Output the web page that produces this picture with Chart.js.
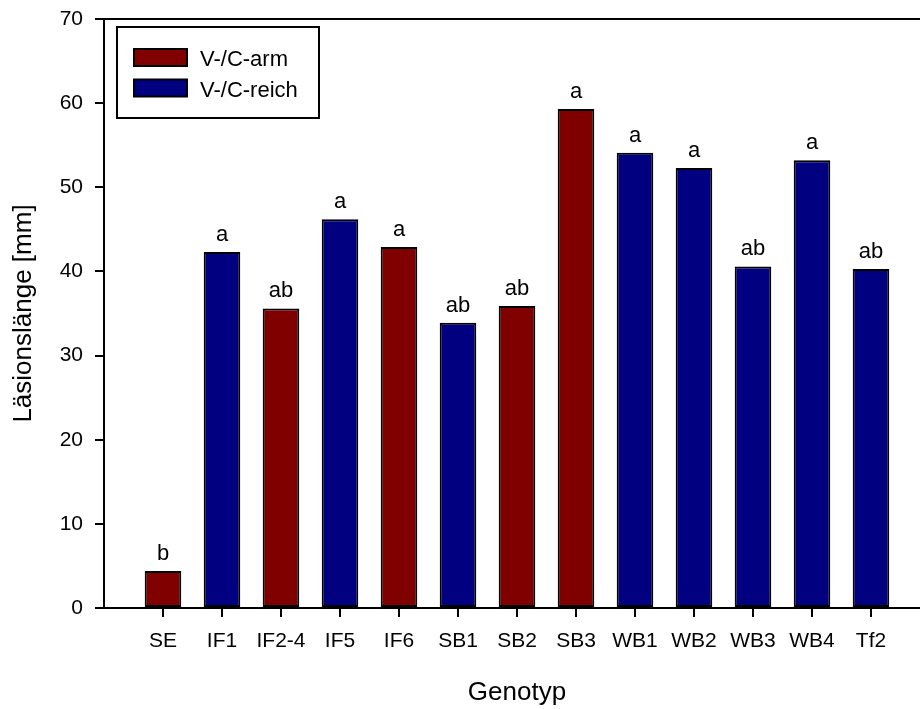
<!DOCTYPE html>
<html>
<head>
<meta charset="utf-8">
<script src="https://cdn.jsdelivr.net/npm/chart.js@4.4.1/dist/chart.umd.min.js"></script>
<style>
  html, body { margin: 0; padding: 0; background: #fff; overflow: hidden; width: 920px; height: 709px; }
  canvas { display: block; }
</style>
</head>
<body>
<canvas id="c" width="940" height="709"></canvas>
<script>
const categories = ['SE','IF1','IF2-4','IF5','IF6','SB1','SB2','SB3','WB1','WB2','WB3','WB4','Tf2'];
const lesionLength = [4.4, 42.3, 35.6, 46.2, 42.9, 33.9, 35.9, 59.3, 54.1, 52.3, 40.6, 53.2, 40.3];
const groupOf = ['arm','reich','arm','reich','arm','reich','arm','arm','reich','reich','reich','reich','reich'];
const letters = ['b','a','ab','a','a','ab','ab','a','a','a','ab','a','ab'];
const seriesNames = ['V-/C-arm', 'V-/C-reich'];
const seriesKeys = ['arm', 'reich'];
const seriesColors = ['#800000', '#000080'];
const yTicks = [0, 10, 20, 30, 40, 50, 60, 70];
const yTitle = 'Läsionslänge [mm]';
const xTitle = 'Genotyp';

const FONT = "'Liberation Sans', Arial, Helvetica, sans-serif";
// padded labels: an empty slot at each end of the axis
const labels = [''].concat(categories, ['']);
function seriesData(key) {
  return [null].concat(lesionLength.map((v, i) => groupOf[i] === key ? v : null), [null]);
}

const datasets = seriesKeys.map((k, s) => ({
  label: seriesNames[s],
  data: seriesData(k),
  backgroundColor: seriesColors[s],
  borderColor: '#000',
  borderWidth: 2,
  borderSkipped: false,
  grouped: false,
  categoryPercentage: 1,
  barPercentage: 0.62
}));

const frameLegendPlugin = {
  id: 'frameLegend',
  afterDatasetsDraw(chart) {
    const ctx = chart.ctx;
    ctx.save();
    ctx.fillStyle = '#000';
    ctx.font = '22px ' + FONT;
    ctx.textAlign = 'center';
    ctx.textBaseline = 'alphabetic';
    letters.forEach((l, i) => {
      const idx = i + 1;
      chart.data.datasets.forEach((ds, d) => {
        if (ds.data[idx] == null) return;
        const el = chart.getDatasetMeta(d).data[idx];
        ctx.fillText(l, el.x, el.y - 11);
      });
    });
    ctx.restore();
  },
  afterDraw(chart) {
    const ctx = chart.ctx;
    const a = chart.chartArea;
    ctx.save();
    // top frame line
    ctx.strokeStyle = '#000';
    ctx.lineWidth = 2;
    ctx.beginPath();
    ctx.moveTo(a.left - 9, a.top);
    ctx.lineTo(chart.width, a.top);
    ctx.stroke();
    // legend box
    const bx = a.left + 13, by = a.top + 8, bw = 202, bh = 91;
    ctx.fillStyle = '#fff';
    ctx.fillRect(bx, by, bw, bh);
    ctx.lineWidth = 2;
    ctx.strokeRect(bx, by, bw, bh);
    ctx.font = '22px ' + FONT;
    ctx.textAlign = 'left';
    ctx.textBaseline = 'alphabetic';
    seriesNames.forEach((n, s) => {
      const sy = by + 22 + s * 30.5;
      ctx.fillStyle = seriesColors[s];
      ctx.fillRect(bx + 17, sy, 53, 17);
      ctx.strokeStyle = '#000';
      ctx.lineWidth = 2;
      ctx.strokeRect(bx + 17, sy, 53, 17);
      ctx.fillStyle = '#000';
      ctx.fillText(n, bx + 83, sy + 17);
    });
    ctx.restore();
  }
};

new Chart(document.getElementById('c'), {
  type: 'bar',
  data: { labels: labels, datasets: datasets },
  options: {
    responsive: false,
    animation: false,
    devicePixelRatio: 1,
    layout: { padding: { top: 19, right: 10, bottom: 0, left: 0 } },
    plugins: { legend: { display: false }, tooltip: { enabled: false } },
    scales: {
      x: {
        type: 'category',
        offset: false,
        afterFit(scale) { scale.height = 101; scale.paddingLeft = 0; scale.paddingRight = 0; },
        grid: {
          offset: false,
          drawOnChartArea: false,
          drawTicks: true,
          tickLength: 9,
          lineWidth: 2,
          color: (c) => (c.tick && c.tick.label === '') ? 'rgba(0,0,0,0)' : '#000'
        },
        border: { display: true, color: '#000', width: 2 },
        ticks: {
          autoSkip: false,
          maxRotation: 0,
          padding: 12,
          color: '#000',
          font: { family: FONT, size: 21 }
        },
        title: {
          display: true,
          text: xTitle,
          color: '#000',
          font: { family: FONT, size: 26 },
          padding: { top: 0, bottom: 1 }
        }
      },
      y: {
        min: yTicks[0],
        max: yTicks[yTicks.length - 1],
        afterFit(scale) { scale.width = 104; scale.paddingTop = 0; scale.paddingBottom = 0; },
        afterBuildTicks(scale) { scale.ticks = yTicks.map(v => ({ value: v })); },
        grid: {
          drawOnChartArea: false,
          drawTicks: true,
          tickLength: 9,
          lineWidth: 2,
          color: '#000'
        },
        border: { display: true, color: '#000', width: 2 },
        ticks: {
          padding: 12,
          color: '#000',
          font: { family: FONT, size: 21 }
        },
        title: {
          display: true,
          text: yTitle,
          color: '#000',
          font: { family: FONT, size: 26 },
          padding: { top: 8, bottom: 0 }
        }
      }
    }
  },
  plugins: [frameLegendPlugin]
});
</script>
</body>
</html>
